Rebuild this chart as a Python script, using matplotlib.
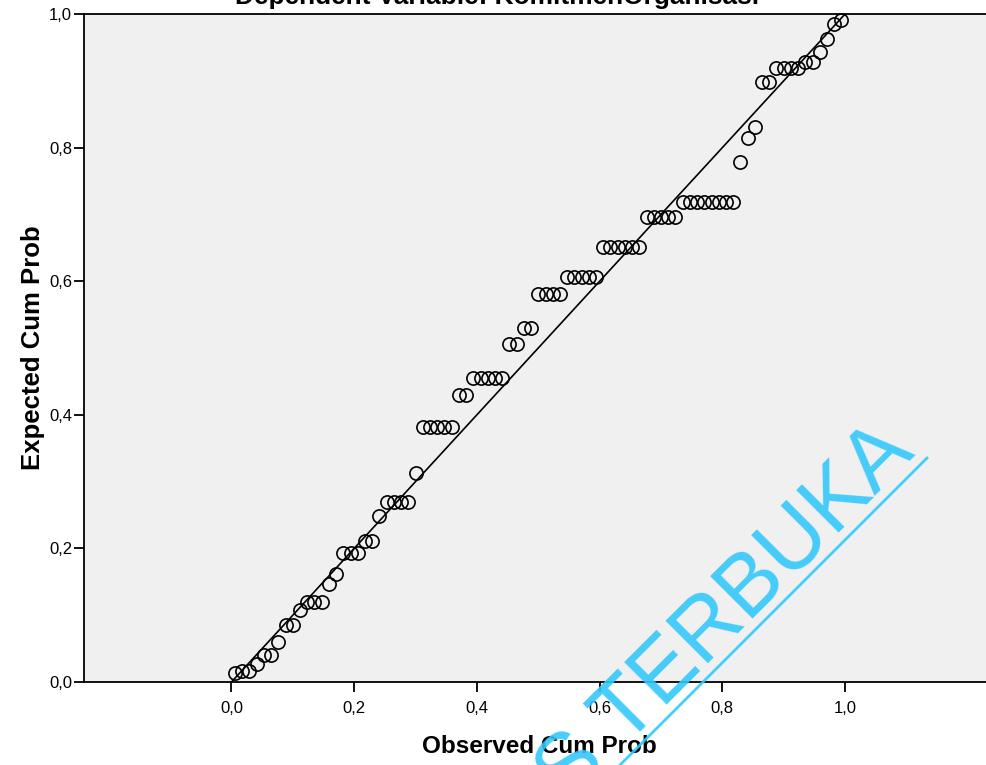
import matplotlib
matplotlib.use("Agg")
import matplotlib.pyplot as plt
from matplotlib.lines import Line2D
from matplotlib.ticker import FuncFormatter

# Normal P-P plot of regression standardized residual
observed_cum_prob = [
    0.0059, 0.0176, 0.0294, 0.0412, 0.0529, 0.0647, 0.0765, 0.0882, 0.1000, 0.1118,
    0.1235, 0.1353, 0.1471, 0.1588, 0.1706, 0.1824, 0.1941, 0.2059, 0.2176, 0.2294,
    0.2412, 0.2529, 0.2647, 0.2765, 0.2882, 0.3000, 0.3118, 0.3235, 0.3353, 0.3471,
    0.3588, 0.3706, 0.3824, 0.3941, 0.4059, 0.4176, 0.4294, 0.4412, 0.4529, 0.4647,
    0.4765, 0.4882, 0.5000, 0.5118, 0.5235, 0.5353, 0.5471, 0.5588, 0.5706, 0.5824,
    0.5941, 0.6059, 0.6176, 0.6294, 0.6412, 0.6529, 0.6647, 0.6765, 0.6882, 0.7000,
    0.7118, 0.7235, 0.7353, 0.7471, 0.7588, 0.7706, 0.7824, 0.7941, 0.8059, 0.8176,
    0.8294, 0.8412, 0.8529, 0.8647, 0.8765, 0.8882, 0.9000, 0.9118, 0.9235, 0.9353,
    0.9471, 0.9588, 0.9706, 0.9824, 0.9941,
]
expected_cum_prob = [
    0.013, 0.017, 0.017, 0.027, 0.040, 0.040, 0.060, 0.085, 0.085, 0.108,
    0.120, 0.120, 0.120, 0.147, 0.162, 0.193, 0.193, 0.193, 0.211, 0.211,
    0.249, 0.269, 0.269, 0.269, 0.269, 0.313, 0.382, 0.382, 0.382, 0.382,
    0.382, 0.430, 0.430, 0.455, 0.455, 0.455, 0.455, 0.455, 0.506, 0.506,
    0.530, 0.530, 0.581, 0.581, 0.581, 0.581, 0.606, 0.606, 0.606, 0.606,
    0.606, 0.651, 0.651, 0.651, 0.651, 0.651, 0.651, 0.696, 0.696, 0.696,
    0.696, 0.696, 0.719, 0.719, 0.719, 0.719, 0.719, 0.719, 0.719, 0.719,
    0.778, 0.814, 0.831, 0.898, 0.898, 0.919, 0.919, 0.919, 0.919, 0.928,
    0.928, 0.943, 0.963, 0.985, 0.991,
]
ref_line = [0.0, 1.0]
tick_values = [0.0, 0.2, 0.4, 0.6, 0.8, 1.0]

title = "Dependent Variable: KomitmenOrganisasi"
x_label = "Observed Cum Prob"
y_label = "Expected Cum Prob"

plt.rcParams["font.family"] = ["Liberation Sans", "DejaVu Sans"]

W, H = 986, 765
fig = plt.figure(figsize=(W / 100, H / 100), dpi=100)
fig.patch.set_facecolor("white")

# axes box in pixels: left 84, top 14, bottom 682, right runs off the figure
ax = fig.add_axes([84 / W, 1 - 682 / H, (995 - 84) / W, (682 - 14) / H])
ax.set_facecolor("#f0f0f0")
ax.set_xlim(-0.2403, 1.2443)
ax.set_ylim(0.0, 1.0)

ax.plot(ref_line, ref_line, color="black", lw=1.2, zorder=2)
ax.plot(observed_cum_prob, expected_cum_prob, linestyle="none", marker="o",
        markersize=9.5, markerfacecolor="none", markeredgecolor="black",
        markeredgewidth=1.2, zorder=3, clip_on=False)

comma = FuncFormatter(lambda v, p: ("%.1f" % v).replace(".", ","))
ax.set_xticks(tick_values)
ax.set_yticks(tick_values)
ax.xaxis.set_major_formatter(comma)
ax.yaxis.set_major_formatter(comma)
ax.tick_params(direction="out", length=7.5, width=1.3, labelsize=12, colors="black")
ax.tick_params(axis="x", pad=6)
ax.tick_params(axis="y", pad=1)

for side in ["left", "bottom", "top"]:
    ax.spines[side].set_linewidth(1.3)
    ax.spines[side].set_color("black")
ax.spines["right"].set_visible(False)

ax.set_xlabel(x_label, fontsize=17.5, fontweight="bold", labelpad=14)
ax.set_ylabel(y_label, fontsize=18.5, fontweight="bold", labelpad=3)

fig.text(497 / W, 1 - 4 / H, title, fontsize=18.9, fontweight="bold",
         ha="center", va="baseline")

# watermark
wm_color = "#33c8fb"
fig.text(917 / W, 1 - 455 / H, "UNIVERSITAS TERBUKA", fontsize=63,
         color=wm_color, alpha=0.9, rotation=45, rotation_mode="anchor",
         ha="right", va="baseline", zorder=10)
fig.add_artist(Line2D([585 / W, 927 / W], [1 - 800 / H, 1 - 458 / H],
                      color=wm_color, alpha=0.9, lw=2, zorder=10))

fig.savefig("out.png", dpi=100)
